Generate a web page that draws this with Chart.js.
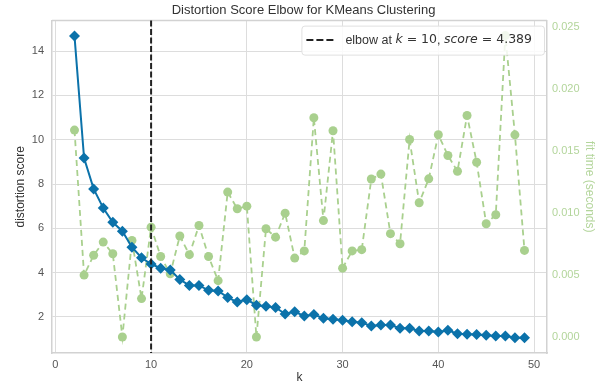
<!DOCTYPE html>
<html>
<head>
<meta charset="utf-8">
<script src="https://cdn.jsdelivr.net/npm/chart.js@4.4.0/dist/chart.umd.min.js"></script>
<style>
  html, body { margin: 0; padding: 0; background: #ffffff; }
  #wrap { width: 607px; height: 385px; }
</style>
</head>
<body>
<div id="wrap"><canvas id="c" width="607" height="385"></canvas></div>
<script>
// ---- data ----
const kValues = [2, 3, 4, 5, 6, 7, 8, 9, 10, 11, 12, 13, 14, 15, 16, 17, 18, 19, 20, 21, 22, 23, 24, 25,
                 26, 27, 28, 29, 30, 31, 32, 33, 34, 35, 36, 37, 38, 39, 40, 41, 42, 43, 44, 45, 46, 47, 48, 49];
const distortionScores = [14.68, 9.17, 7.78, 6.92, 6.27, 5.87, 5.15, 4.67, 4.389, 4.20, 4.12, 3.69, 3.42, 3.42,
                          3.20, 3.17, 2.88, 2.67, 2.78, 2.53, 2.48, 2.43, 2.13, 2.23, 2.04, 2.11, 1.94, 1.89,
                          1.85, 1.78, 1.74, 1.59, 1.63, 1.63, 1.49, 1.49, 1.36, 1.36, 1.32, 1.40, 1.24, 1.22,
                          1.21, 1.17, 1.14, 1.14, 1.06, 1.06];
const fitTimes = [0.0167, 0.0050, 0.0066, 0.00766, 0.00672, 0.0000, 0.0078, 0.0031, 0.00887, 0.0065, 0.0051,
                  0.00815, 0.00665, 0.0090, 0.0065, 0.00455, 0.0117, 0.01035, 0.01056, 0.0000, 0.00874, 0.00806,
                  0.0100, 0.00637, 0.00695, 0.0177, 0.0094, 0.01665, 0.00556, 0.00695, 0.00705, 0.01275,
                  0.01315, 0.00834, 0.00753, 0.01594, 0.01084, 0.01277, 0.01633, 0.01465, 0.01338, 0.01788,
                  0.01411, 0.00914, 0.00987, 0.02433, 0.01632, 0.00699];
const elbowK = 10;
const elbowScore = 4.389;
const xTicks = [0, 10, 20, 30, 40, 50];
const leftTicks = [2, 4, 6, 8, 10, 12, 14];
const rightTicks = [0.000, 0.005, 0.010, 0.015, 0.020, 0.025];
const chartTitle = 'Distortion Score Elbow for KMeans Clustering';
const xTitle = 'k';
const yTitle = 'distortion score';
const y2Title = 'fit time (seconds)';

// ---- styles ----
const BLUE = '#0b72aa';
const GREEN = '#a9d08e';
const GREEN_TEXT = '#b3d59b';
const GRID = '#dddddd';
const SPINE = '#d2d2d2';
const SANS = '"Liberation Sans", Arial, Helvetica, sans-serif';
const MATH = '"DejaVu Sans", sans-serif';

const elbowPlugin = {
  id: 'elbow',
  afterDatasetsDraw(chart) {
    const ctx = chart.ctx, a = chart.chartArea;
    const x = chart.scales.x.getPixelForValue(elbowK);
    ctx.save();
    ctx.strokeStyle = '#222222';
    ctx.lineWidth = 2;
    ctx.setLineDash([6, 2.5]);
    ctx.beginPath();
    ctx.moveTo(x, a.top);
    ctx.lineTo(x, a.bottom);
    ctx.stroke();
    ctx.restore();
  },
  beforeDatasetsDraw(chart) {
    const ctx = chart.ctx, a = chart.chartArea;
    ctx.save();
    ctx.strokeStyle = SPINE;
    ctx.lineWidth = 1.5;
    ctx.beginPath();
    ctx.moveTo(a.left, a.top);
    ctx.lineTo(a.right, a.top);
    ctx.stroke();
    ctx.restore();
  },
  afterDraw(chart) {
    const ctx = chart.ctx, a = chart.chartArea;
    const fs = 12.5;
    const parts = [
      ['elbow at ', `${fs}px ${SANS}`],
      ['k', `italic ${fs}px ${MATH}`],
      [' = ' + elbowK, `${fs}px ${MATH}`],
      [', ', `${fs}px ${SANS}`],
      ['score', `italic ${fs}px ${MATH}`],
      [' = ' + elbowScore, `${fs}px ${MATH}`]
    ];
    ctx.save();
    let tw = 0;
    for (const [t, f] of parts) { ctx.font = f; tw += ctx.measureText(t).width; }
    const h = 29;
    const right = a.right - 3;
    const w = 44 + tw + 12;
    const left = right - w;
    const top = a.top + 5;
    ctx.fillStyle = 'rgba(255,255,255,0.85)';
    ctx.strokeStyle = '#e0e0e0';
    ctx.lineWidth = 1;
    ctx.beginPath();
    ctx.roundRect(left + 0.5, top + 0.5, w, h, 3);
    ctx.fill();
    ctx.stroke();
    const cy = top + h / 2;
    ctx.strokeStyle = '#222222';
    ctx.lineWidth = 2;
    ctx.setLineDash([7, 3]);
    ctx.beginPath();
    ctx.moveTo(left + 5, cy);
    ctx.lineTo(left + 34, cy);
    ctx.stroke();
    ctx.setLineDash([]);
    ctx.fillStyle = '#333333';
    ctx.textBaseline = 'middle';
    ctx.textAlign = 'left';
    let x = left + 44;
    for (const [t, f] of parts) {
      ctx.font = f;
      ctx.fillText(t, x, cy);
      x += ctx.measureText(t).width;
    }
    ctx.restore();
  }
};

const ctx = document.getElementById('c').getContext('2d');
new Chart(ctx, {
  type: 'line',
  data: {
    datasets: [
      {
        label: 'distortion score',
        data: kValues.map((k, i) => ({ x: k, y: distortionScores[i] })),
        yAxisID: 'y',
        borderColor: BLUE,
        backgroundColor: BLUE,
        borderWidth: 2,
        pointStyle: 'rectRot',
        pointRadius: 5.5,
        pointBorderWidth: 0,
        tension: 0
      },
      {
        label: 'fit time',
        data: kValues.map((k, i) => ({ x: k, y: fitTimes[i] })),
        yAxisID: 'y2',
        borderColor: GREEN,
        backgroundColor: GREEN,
        borderWidth: 1.8,
        borderDash: [6, 4],
        pointStyle: 'circle',
        pointRadius: 4.5,
        pointBorderWidth: 0,
        tension: 0
      }
    ]
  },
  options: {
    responsive: false,
    animation: false,
    devicePixelRatio: 1,
    layout: { padding: 0 },
    plugins: {
      legend: { display: false },
      tooltip: { enabled: false },
      title: {
        display: true,
        text: chartTitle,
        color: '#333333',
        font: { family: SANS, size: 13, weight: 'normal' },
        padding: { top: 3, bottom: 2 }
      }
    },
    scales: {
      x: {
        type: 'linear',
        min: -0.35,
        max: 51.35,
        afterFit: s => { s.height = 32; },
        afterBuildTicks: s => { s.ticks = xTicks.map(v => ({ value: v })); },
        ticks: { color: '#555555', padding: 5, font: { family: SANS, size: 11 } },
        grid: { color: GRID, lineWidth: 1, drawTicks: false },
        border: { color: SPINE, width: 1.5 },
        title: { display: true, text: xTitle, color: '#333333', font: { family: SANS, size: 12 }, padding: { top: 0, bottom: 0 } }
      },
      y: {
        type: 'linear',
        position: 'left',
        min: 0.37,
        max: 15.38,
        afterFit: s => { s.width = 52; },
        afterBuildTicks: s => { s.ticks = leftTicks.map(v => ({ value: v })); },
        ticks: { color: '#555555', padding: 8, font: { family: SANS, size: 11 } },
        grid: { color: GRID, lineWidth: 1, drawTicks: false },
        border: { color: SPINE, width: 1.5 },
        title: { display: true, text: yTitle, color: '#333333', font: { family: SANS, size: 12 }, padding: { top: 13, bottom: 0 } }
      },
      y2: {
        type: 'linear',
        position: 'right',
        min: -0.00129,
        max: 0.02554,
        afterFit: s => { s.width = 60; },
        afterBuildTicks: s => { s.ticks = rightTicks.map(v => ({ value: v })); },
        ticks: { color: GREEN_TEXT, padding: 5, font: { family: SANS, size: 11 }, callback: v => Number(v).toFixed(3) },
        grid: { display: false, drawTicks: false },
        border: { color: SPINE, width: 1.5 },
        title: { display: true, text: y2Title, color: GREEN_TEXT, font: { family: SANS, size: 12 }, padding: { top: 10, bottom: 0 } }
      }
    }
  },
  plugins: [elbowPlugin]
});
</script>
</body>
</html>
